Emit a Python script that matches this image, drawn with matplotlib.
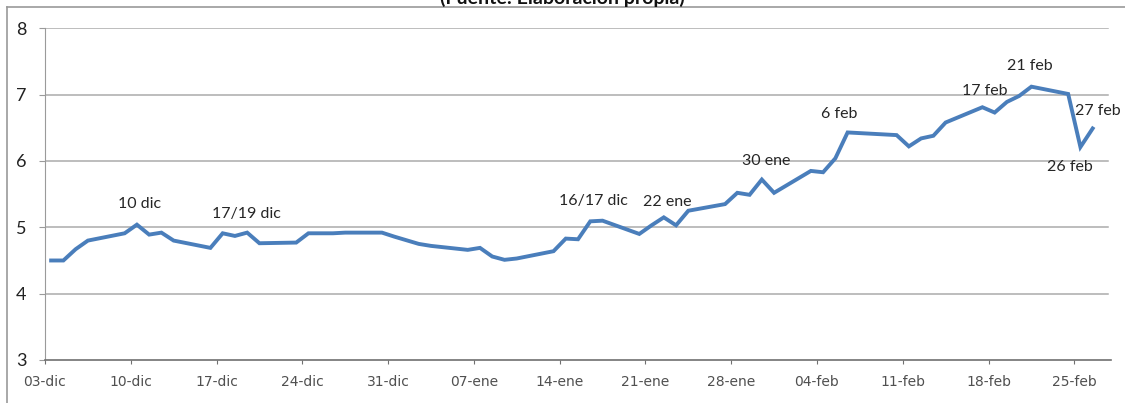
import datetime as dt
import matplotlib
matplotlib.use('Agg')
import matplotlib.pyplot as plt

# datos (dias habiles, dic 2013 - feb 2014)
fechas = ['2013-12-03', '2013-12-04', '2013-12-05', '2013-12-06', '2013-12-09',
          '2013-12-10', '2013-12-11', '2013-12-12', '2013-12-13', '2013-12-16',
          '2013-12-17', '2013-12-18', '2013-12-19', '2013-12-20', '2013-12-23',
          '2013-12-24', '2013-12-26', '2013-12-27', '2013-12-30', '2013-12-31',
          '2014-01-02', '2014-01-03', '2014-01-06', '2014-01-07', '2014-01-08',
          '2014-01-09', '2014-01-10', '2014-01-13', '2014-01-14', '2014-01-15',
          '2014-01-16', '2014-01-17', '2014-01-20', '2014-01-21', '2014-01-22',
          '2014-01-23', '2014-01-24', '2014-01-27', '2014-01-28', '2014-01-29',
          '2014-01-30', '2014-01-31', '2014-02-03', '2014-02-04', '2014-02-05',
          '2014-02-06', '2014-02-07', '2014-02-10', '2014-02-11', '2014-02-12',
          '2014-02-13', '2014-02-14', '2014-02-17', '2014-02-18', '2014-02-19',
          '2014-02-20', '2014-02-21', '2014-02-24', '2014-02-25', '2014-02-26']
valores = [4.50, 4.50, 4.67, 4.80, 4.91,
           5.04, 4.89, 4.92, 4.80, 4.69,
           4.91, 4.87, 4.92, 4.76, 4.77,
           4.91, 4.91, 4.92, 4.92, 4.86,
           4.75, 4.72, 4.66, 4.69, 4.56,
           4.51, 4.53, 4.64, 4.83, 4.82,
           5.09, 5.10, 4.90, 5.03, 5.15,
           5.03, 5.25, 5.35, 5.52, 5.49,
           5.72, 5.52, 5.85, 5.83, 6.04,
           6.43, 6.42, 6.39, 6.22, 6.34,
           6.38, 6.58, 6.81, 6.73, 6.89,
           6.98, 7.12, 7.01, 6.21, 6.49]

ticks_fechas = ['2013-12-03', '2013-12-10', '2013-12-17', '2013-12-24', '2013-12-31',
                '2014-01-07', '2014-01-14', '2014-01-21', '2014-01-28', '2014-02-04',
                '2014-02-11', '2014-02-18', '2014-02-25']
ticks_etiquetas = ['03-dic', '10-dic', '17-dic', '24-dic', '31-dic', '07-ene', '14-ene',
                   '21-ene', '28-ene', '04-feb', '11-feb', '18-feb', '25-feb']

# etiquetas de texto: (texto, dias desde 03-dic, valor)
notas = ['10 dic', '17/19 dic', '16/17 dic', '22 ene', '30 ene', '6 feb',
         '17 feb', '21 feb', '27 feb', '26 feb']
notas_dia = [7.75, 16.48, 44.78, 50.82, 58.89, 64.85, 76.67, 80.34, 85.89, 83.61]
notas_y = [5.35, 5.20, 5.40, 5.38, 6.00, 6.71, 7.06, 7.43, 6.75, 5.91]

def d(s):
    return dt.datetime.strptime(s, '%Y-%m-%d')

inicio = d('2013-12-03')
x = [d(f) + dt.timedelta(hours=12) for f in fechas]

fig = plt.figure(figsize=(11.25, 4.03), dpi=100)
ax = fig.add_axes([0.04, 0.1067, 0.9476, 0.8231])

# marco del grafico
fig.add_artist(plt.Line2D([7 / 1125, 7 / 1125], [0, 1 - 7 / 403], color='#9a9a9a', lw=1.2))
fig.add_artist(plt.Line2D([7 / 1125, 1], [1 - 7 / 403, 1 - 7 / 403], color='#9a9a9a', lw=1.2))

# titulo (cortado arriba, como en el original)
fig.text(0.5, 1 - 4 / 403, '(Fuente: Elaboración propia)', ha='center', va='baseline',
         fontsize=14, fontweight='bold', family='Lato', color='#111111')

ax.plot(x, valores, color='#4a7ebb', lw=2.8, solid_joinstyle='miter', zorder=3)

ax.set_ylim(3, 8)
ax.set_xlim(inicio, d('2014-02-28'))
ax.set_yticks([3, 4, 5, 6, 7, 8])
ax.set_yticklabels(['3', '4', '5', '6', '7', '8'], family='Lato', fontsize=13, color='#222222')
ax.set_xticks([d(t) for t in ticks_fechas])
ax.set_xticklabels(ticks_etiquetas, family='DejaVu Sans', fontsize=10, color='#505050')

for v in [4, 5, 6, 7, 8]:
    ax.axhline(v, xmin=0, xmax=0.997, color='#ababab', lw=1.1, zorder=1)

for s in ['top', 'right']:
    ax.spines[s].set_visible(False)
ax.spines['left'].set_color('#9a9a9a')
ax.spines['bottom'].set_color('#707070')
ax.spines['bottom'].set_linewidth(1.2)
ax.tick_params(axis='y', length=4.5, color='#9a9a9a', pad=9)
ax.tick_params(axis='x', length=3, color='#707070', pad=8)

for t, dd, yy in zip(notas, notas_dia, notas_y):
    ax.text(inicio + dt.timedelta(days=dd), yy, t, ha='center', va='center',
            family='Lato', fontsize=11.5, color='#262626', zorder=4)

fig.savefig('out.png', dpi=100)
